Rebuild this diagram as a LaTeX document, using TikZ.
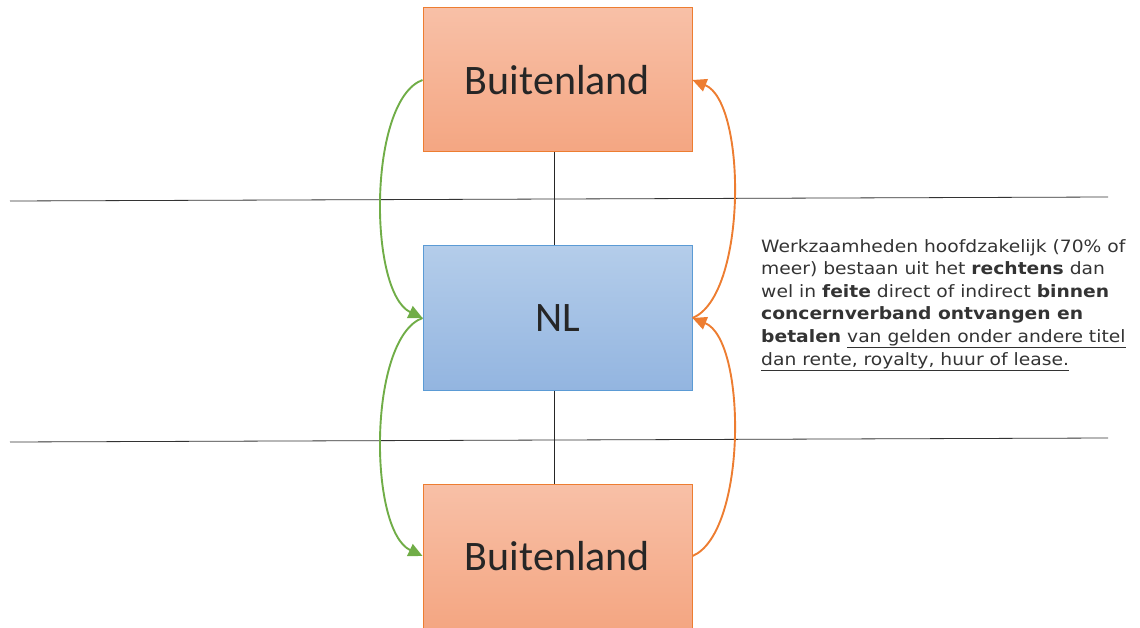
\documentclass[tikz,border=0pt]{standalone}
\usepackage{fontspec}
\setmainfont{Carlito}
\newfontfamily\verd[FakeStretch=1.1]{DejaVu Sans}
\usetikzlibrary{arrows.meta}
\definecolor{orbord}{HTML}{ED7D31}
\definecolor{ortop}{HTML}{F8C0A7}
\definecolor{orbot}{HTML}{F4A682}
\definecolor{blbord}{HTML}{5B9BD5}
\definecolor{bltop}{HTML}{B4CDEA}
\definecolor{blbot}{HTML}{93B5E0}
\definecolor{grarr}{HTML}{70AD47}
\definecolor{txt}{HTML}{262626}
\definecolor{ptxt}{HTML}{333333}
\tikzset{
  orbox/.style={draw=orbord, line width=1pt, top color=ortop, bottom color=orbot, minimum width=269pt, minimum height=144pt, inner sep=0pt, font=\fontsize{42}{50}\selectfont, text=txt},
  blbox/.style={draw=blbord, line width=1pt, top color=bltop, bottom color=blbot, minimum width=269pt, minimum height=144pt, inner sep=0pt, font=\fontsize{42}{50}\selectfont, text=txt},
  link/.style={draw=black!85, line width=0.8pt},
  sep/.style={draw=black!80, line width=0.8pt},
  garr/.style={draw=grarr, line width=1.9pt, -{Triangle[length=14pt,width=13pt]}},
  oarr/.style={draw=orbord, line width=1.9pt, -{Triangle[length=14pt,width=13pt]}},
}
\begin{document}
\begin{tikzpicture}[x=1pt,y=-1pt]
\useasboundingbox (0,0) rectangle (1140,628);
% separator lines
\coordinate (l1a) at (10,201);
\coordinate (l1b) at (1108,197);
\coordinate (l2a) at (10,442);
\coordinate (l2b) at (1108,438);
\draw[sep] (l1a) -- (l1b);
\draw[sep] (l2a) -- (l2b);
% boxes
\node[orbox] (top) at (557.5,80) {Buitenland};
\node[blbox] (nl) at (557.5,318) {NL};
\node[orbox] (bot) at (557.5,556) {Buitenland};
% vertical links
\draw[link] (top.south -| 554,0) -- (nl.north -| 554,0);
\draw[link] (nl.south -| 554,0) -- (bot.north -| 554,0);
% green arrows
\draw[garr] (top.west) .. controls (368,100) and (368,292) .. (nl.west);
\draw[garr] (nl.west) .. controls (368,338) and (368,530) .. (bot.west);
% orange arrows
\draw[oarr] (bot.east) .. controls (747,533) and (747,340) .. (nl.east);
\draw[oarr] (nl.east) .. controls (747,296) and (747,102) .. (top.east);
% text
\node[anchor=north west, inner sep=0pt, align=left, text=ptxt,
      font=\verd\fontsize{17}{22.6}\selectfont] (txt) at (761,239)
{Werkzaamheden hoofdzakelijk (70\% of\\
meer) bestaan uit het \textbf{rechtens} dan\\
wel in \textbf{feite} direct of indirect \textbf{binnen}\\
\textbf{concernverband ontvangen en}\\
\textbf{betalen} \underline{van gelden onder andere titel}\\
\underline{dan rente, royalty, huur of lease.}};
\end{tikzpicture}
\end{document}
